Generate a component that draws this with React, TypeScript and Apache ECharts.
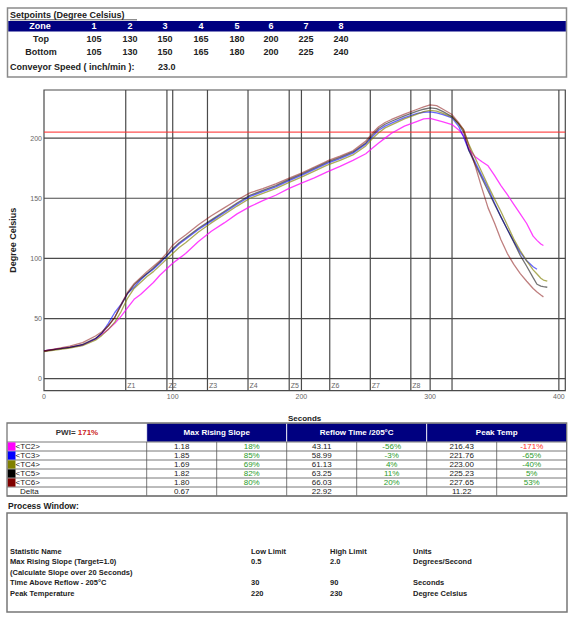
import React, { useEffect, useRef } from "react";
import * as echarts from "echarts";

const FONT = "'Liberation Sans', Arial, sans-serif";

// ---------- setpoints table ----------
const zoneNames = ["1", "2", "3", "4", "5", "6", "7", "8"];
const topSetpoints = [105, 130, 150, 165, 180, 200, 225, 240];
const bottomSetpoints = [105, 130, 150, 165, 180, 200, 225, 240];
const conveyorSpeed = "23.0";

// ---------- profile data ----------
const seconds = [0, 10, 20, 30, 40, 45, 50, 55, 60, 65, 70, 75, 80, 85, 90, 95, 100, 105, 110, 120, 130, 140, 150, 160, 170, 180, 190, 200, 210, 220, 230, 240, 250, 255, 260, 265, 270, 280, 290, 295, 300, 305, 310, 317, 322, 326, 330, 335, 340, 345, 350, 355, 360, 365, 370, 375, 380, 383, 386, 388, 391];

const tc2 = [23, 24.5, 26, 28, 33, 37, 41, 46, 52, 59, 66, 70, 75, 80, 86, 91, 96, 100, 104, 114, 122.5, 129.5, 137, 143, 148, 152.5, 158, 162.5, 167, 172, 176.5, 181.5, 187, 191.5, 196, 200, 204, 210, 214, 216, 216.4, 215, 213.5, 211.3, 207, 202, 191, 184.5, 180.5, 177, 169, 160.5, 153, 145, 137, 129, 118.5, 115, 112, 110.7, null];
const tc3 = [23, 24.5, 26, 28, 33, 38, 46, 55, 62, 71, 76, 82, 87, 91, 96, 101.5, 107, 112, 116, 124, 131, 138, 145, 151.5, 155.5, 159.5, 164.5, 169, 174, 179, 183, 187.5, 195, 201, 206.5, 210, 212.5, 217, 220.5, 221.5, 221.8, 221, 219.5, 216.8, 210, 201, 190, 180, 169, 158.5, 146, 134.5, 124, 114, 105, 98, 93, 91, null, null, null];
const tc4 = [22.5, 24, 25.5, 27.5, 32, 36, 41, 47, 56, 67, 75, 80, 85, 89, 94, 99, 104, 109, 113, 122, 129.5, 136.5, 143.5, 150, 154, 158, 163, 167.5, 172.5, 177.5, 181.5, 186, 193.5, 199.5, 204.5, 208.5, 211, 216, 220, 222, 223, 222.5, 220.5, 217.5, 212, 207, 195, 183.5, 172, 160.5, 149.5, 139, 127.5, 116, 106.5, 98, 90.5, 87, 83.5, 82, 81];
const tc5 = [23, 24.5, 26, 28.5, 33.5, 38, 44, 51, 61, 71, 78, 83, 87.5, 92, 97, 102, 108, 113, 117, 125, 132, 139, 146, 152.5, 156.5, 160.5, 165.5, 170, 175, 180, 184, 188.5, 196, 202.5, 208, 211.5, 214, 218.5, 222.5, 224, 225.2, 224.5, 222, 218, 212, 205, 190, 178, 167, 156, 145, 134.5, 124, 113.5, 102.5, 93.5, 84, 78.5, 77, 76.5, 76];
const tc6 = [23, 25, 27, 30, 35.5, 39, 44, 51, 62, 72, 79, 84, 89, 93.5, 98, 104, 111, 115.5, 119.5, 128, 135.5, 142, 148.5, 154.5, 158, 162, 166.5, 171, 176, 181, 185, 189.5, 197.5, 204, 209.5, 213, 215.5, 220, 224, 226, 227.6, 227, 224, 219.6, 213, 207, 194, 177, 159, 142, 129.5, 115.5, 104, 95, 87.3, 81, 75, 72, 69.5, 68, null];

const probeNames = ["<TC2>", "<TC3>", "<TC4>", "<TC5>", "<TC6>"];
const probeColors = ["#ff00ff", "#0000ff", "#808000", "#000000", "#800000"];
const probeOpacity = [0.75, 0.6, 0.65, 0.55, 0.5];
const probeTemps = [tc2, tc3, tc4, tc5, tc6];

const zoneBoundaries = [63.5, 95.5, 127, 158.5, 190.5, 222, 253.5, 285, 317];
const zoneLabels = ["Z1", "Z2", "Z3", "Z4", "Z5", "Z6", "Z7", "Z8"];
const secondGrid = [100, 200, 300, 400];
const tempGrid = [0, 50, 100, 150, 200];
const reflowTemp = 205;
const xTicks = [0, 100, 200, 300, 400];
const yTicks = [0, 50, 100, 150, 200];

// ---------- statistics table ----------
const pwiValue = "171%";
const maxSlope = ["1.18", "1.85", "1.69", "1.82", "1.80"];
const slopePct = ["18%", "85%", "69%", "82%", "80%"];
const reflowTime = ["43.11", "58.99", "61.13", "63.25", "66.03"];
const reflowPct = ["-56%", "-3%", "4%", "11%", "20%"];
const peakTemp = ["216.43", "221.76", "223.00", "225.23", "227.65"];
const peakPct = ["-171%", "-65%", "-40%", "5%", "53%"];
const deltas = ["0.67", "22.92", "11.22"];
const statHeaders = ["Max Rising Slope", "Reflow Time /205°C", "Peak Temp"];

// ---------- process window ----------
const pwHeader = ["Statistic Name", "Low Limit", "High Limit", "Units"];
const pwRows = [
  ["Max Rising Slope (Target=1.0)", "0.5", "2.0", "Degrees/Second"],
  ["(Calculate Slope over 20 Seconds)", "", "", ""],
  ["Time Above Reflow - 205°C", "30", "90", "Seconds"],
  ["Peak Temperature", "220", "230", "Degree Celsius"],
];

function txt(x: number, y: number, text: string, o: any = {}) {
  return {
    type: "text",
    x,
    y,
    silent: true,
    style: {
      text,
      fill: o.fill ?? "#222",
      fontSize: o.size ?? 8,
      fontWeight: o.bold ? "bold" : "normal",
      fontFamily: FONT,
      align: o.align ?? "left",
      verticalAlign: "middle",
    },
  };
}
function rect(x: number, y: number, w: number, h: number, style: any) {
  return { type: "rect", silent: true, shape: { x, y, width: w, height: h }, style };
}
function hline(x1: number, x2: number, y: number, stroke = "#666", lw = 0.8) {
  return { type: "line", silent: true, shape: { x1, y1: y, x2, y2: y }, style: { stroke, lineWidth: lw } };
}
function vline(x: number, y1: number, y2: number, stroke = "#666", lw = 0.8) {
  return { type: "line", silent: true, shape: { x1: x, y1, x2: x, y2 }, style: { stroke, lineWidth: lw } };
}

function buildGraphic() {
  const g: any[] = [];
  // top table
  g.push(rect(7.5, 8, 559, 69, { fill: "none", stroke: "#8a8a8a", lineWidth: 1.5 }));
  g.push(txt(10, 15, "Setpoints (Degree Celsius)", { bold: true, size: 9 }));
  g.push(hline(10, 137, 19.8, "#333", 0.8));
  g.push(rect(8.3, 21, 557.5, 10.5, { fill: "#000080" }));
  const colX = [94, 130, 165, 201, 237, 271, 306, 341];
  g.push(txt(40, 26.3, "Zone", { bold: true, size: 9, fill: "#fff", align: "center" }));
  zoneNames.forEach((z, i) => g.push(txt(colX[i], 26.3, z, { bold: true, size: 9, fill: "#fff", align: "center" })));
  g.push(txt(41, 38.5, "Top", { bold: true, size: 9, align: "center" }));
  topSetpoints.forEach((v, i) => g.push(txt(colX[i], 38.5, String(v), { bold: true, size: 9, align: "center" })));
  g.push(txt(41, 52, "Bottom", { bold: true, size: 9, align: "center" }));
  bottomSetpoints.forEach((v, i) => g.push(txt(colX[i], 52, String(v), { bold: true, size: 9, align: "center" })));
  g.push(txt(10, 67, "Conveyor Speed ( inch/min ):", { bold: true, size: 9 }));
  g.push(txt(158, 67, conveyorSpeed, { bold: true, size: 9 }));

  // statistics table
  const L = 7, R = 566.7, T = 423, HB = 442, rowH = 9;
  const groupX = [146.7, 286.7, 426.7];
  const gw = 140;
  g.push(rect(L, T, R - L, HB - T, { fill: "#fff" }));
  groupX.forEach((gx, i) => {
    g.push(rect(gx, T, gw, HB - T, { fill: "#000080", stroke: "#fff", lineWidth: 0.8 }));
    g.push(txt(gx + gw / 2, (T + HB) / 2, statHeaders[i], { bold: true, size: 8, fill: "#fff", align: "center" }));
  });
  g.push({
    type: "text",
    x: 77,
    y: (T + HB) / 2,
    silent: true,
    style: {
      text: "{a|PWI= }{b|" + pwiValue + "}",
      align: "center",
      verticalAlign: "middle",
      rich: {
        a: { fill: "#333", fontSize: 8, fontWeight: "bold", fontFamily: FONT },
        b: { fill: "#cc2222", fontSize: 8, fontWeight: "bold", fontFamily: FONT },
      },
    },
  });
  const nRows = probeNames.length + 1;
  const bottom = HB + nRows * rowH;
  for (let r = 0; r <= nRows; r++) g.push(hline(L, R, HB + r * rowH, "#555", 0.8));
  const colLines = [146.7, 216.7, 286.7, 356.7, 426.7, 496.7];
  colLines.forEach((x) => g.push(vline(x, HB, bottom, "#555", 0.8)));
  const centers = [181.7, 251.7, 321.7, 391.7, 461.7, 531.7];
  const green = "#2a9a2a";
  const red = "#ff2a2a";
  probeNames.forEach((name, i) => {
    const yTop = HB + i * rowH;
    const yc = yTop + rowH / 2 + 0.3;
    g.push(rect(L + 0.5, yTop + 0.4, 8, rowH - 0.8, { fill: probeColors[i] }));
    g.push(txt(15.5, yc, name, { size: 8 }));
    g.push(txt(centers[0], yc, maxSlope[i], { size: 8, align: "center" }));
    g.push(txt(centers[1], yc, slopePct[i], { size: 8, align: "center", fill: slopePct[i].startsWith("-1") ? red : green }));
    g.push(txt(centers[2], yc, reflowTime[i], { size: 8, align: "center" }));
    g.push(txt(centers[3], yc, reflowPct[i], { size: 8, align: "center", fill: green }));
    g.push(txt(centers[4], yc, peakTemp[i], { size: 8, align: "center" }));
    g.push(txt(centers[5], yc, peakPct[i], { size: 8, align: "center", fill: peakPct[i] === "-171%" ? red : green }));
  });
  const yd = HB + probeNames.length * rowH + rowH / 2 + 0.3;
  g.push(txt(20, yd, "Delta", { size: 8 }));
  g.push(txt(centers[0], yd, deltas[0], { size: 8, align: "center" }));
  g.push(txt(centers[2], yd, deltas[1], { size: 8, align: "center" }));
  g.push(txt(centers[4], yd, deltas[2], { size: 8, align: "center" }));
  g.push(rect(L, T, R - L, bottom - T, { fill: "none", stroke: "#777", lineWidth: 1.3 }));

  // process window
  g.push(txt(8, 506, "Process Window:", { bold: true, size: 8.5 }));
  g.push(rect(7, 513, 560, 99, { fill: "none", stroke: "#777", lineWidth: 1.5 }));
  const pwX = [10, 251, 330, 413];
  const pwY = [551, 561.5, 572, 582.5, 593];
  pwHeader.forEach((h, i) => g.push(txt(pwX[i], pwY[0], h, { bold: true, size: 7.5 })));
  pwRows.forEach((row, r) =>
    row.forEach((c, i) => {
      if (c) g.push(txt(pwX[i], pwY[r + 1], c, { bold: true, size: 7.5 }));
    })
  );
  return g;
}

export default function App() {
  const ref = useRef<HTMLDivElement>(null);
  useEffect(() => {
    if (!ref.current) return;
    const chart = echarts.init(ref.current, null, { renderer: "svg" });
    const lineSeries = probeNames.map((name, i) => ({
      name,
      type: "line",
      z: 3,
      showSymbol: false,
      symbol: "none",
      smooth: false,
      lineStyle: { color: probeColors[i], width: 1.3, opacity: probeOpacity[i] },
      itemStyle: { color: probeColors[i] },
      data: seconds.map((s, k) => [s, probeTemps[i][k]]).filter((p) => p[1] !== null),
    }));
    const gridStroke = "#4a4a4a";
    const option: any = {
      animation: false,
      backgroundColor: "#fff",
      graphic: buildGraphic(),
      grid: {
        left: 42,
        right: 10.7,
        top: 90,
        bottom: 226.3,
        show: true,
        borderColor: gridStroke,
        borderWidth: 1.2,
        backgroundColor: "transparent",
      },
      xAxis: {
        type: "value",
        min: 0,
        max: 405,
        interval: 100,
        name: "Seconds",
        nameLocation: "middle",
        nameGap: 24,
        nameTextStyle: { fontFamily: FONT, fontSize: 8, fontWeight: "bold", color: "#222" },
        axisLine: { show: false },
        axisTick: { show: false },
        splitLine: { show: false },
        axisLabel: { customValues: xTicks, fontFamily: FONT, fontSize: 7, color: "#666", margin: 2 },
      },
      yAxis: {
        type: "value",
        min: -10,
        max: 240,
        name: "Degree Celsius",
        nameLocation: "middle",
        nameGap: 27,
        nameTextStyle: { fontFamily: FONT, fontSize: 9, fontWeight: "bold", color: "#222" },
        axisLine: { show: false },
        axisTick: { show: false },
        splitLine: { show: false },
        axisLabel: { customValues: yTicks, fontFamily: FONT, fontSize: 7, color: "#666", margin: 2 },
      },
      series: [
        {
          type: "custom",
          z: 1,
          silent: true,
          data: [...zoneBoundaries, ...secondGrid],
          renderItem: (params: any, api: any) => {
            const v = api.value(0);
            const p1 = api.coord([v, -10]);
            const p2 = api.coord([v, 240]);
            return {
              type: "line",
              shape: { x1: p1[0], y1: p1[1], x2: p2[0], y2: p2[1] },
              style: { stroke: gridStroke, lineWidth: 1.2 },
            };
          },
        },
        {
          type: "custom",
          z: 1,
          silent: true,
          data: tempGrid,
          renderItem: (params: any, api: any) => {
            const v = api.value(0);
            const p1 = api.coord([0, v]);
            const p2 = api.coord([405, v]);
            return {
              type: "line",
              shape: { x1: p1[0], y1: p1[1], x2: p2[0], y2: p2[1] },
              style: { stroke: gridStroke, lineWidth: 1.2 },
            };
          },
        },
        {
          type: "custom",
          z: 2,
          silent: true,
          data: zoneLabels.map((l, i) => [zoneBoundaries[i], -5, l]),
          renderItem: (params: any, api: any) => {
            const p = api.coord([api.value(0), api.value(1)]);
            return {
              type: "text",
              x: p[0] + 1.5,
              y: p[1] + 1,
              style: {
                text: zoneLabels[params.dataIndex],
                fill: "#666",
                fontSize: 7,
                fontFamily: FONT,
                align: "left",
                verticalAlign: "middle",
              },
            };
          },
        },
        {
          type: "custom",
          z: 2,
          silent: true,
          data: [reflowTemp],
          renderItem: (params: any, api: any) => {
            const v = api.value(0);
            const p1 = api.coord([0, v]);
            const p2 = api.coord([405, v]);
            return {
              type: "line",
              shape: { x1: p1[0], y1: p1[1], x2: p2[0], y2: p2[1] },
              style: { stroke: "#ff3333", lineWidth: 1.2, opacity: 0.85 },
            };
          },
        },
        ...lineSeries,
      ],
    };
    chart.setOption(option);
    return () => chart.dispose();
  }, []);
  return (
    <div
      ref={ref}
      style={{ position: "absolute", left: 0, top: 0, width: 576, height: 617, background: "#fff" }}
    />
  );
}
